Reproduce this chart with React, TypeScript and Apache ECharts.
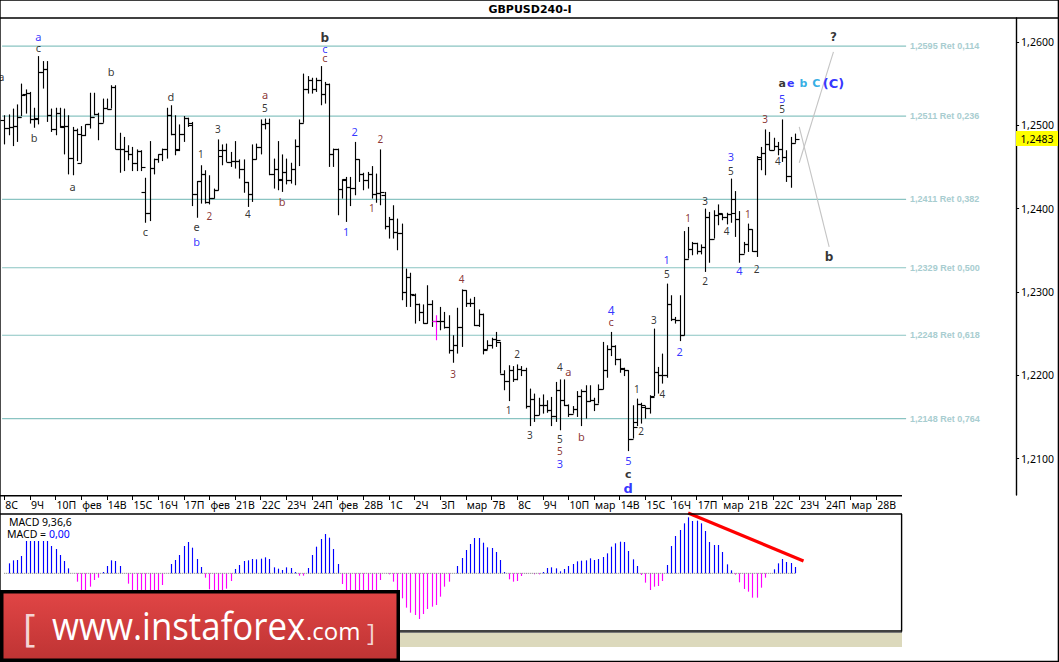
import React, { useEffect, useRef } from "react";
import * as echarts from "echarts";

// prices are in points (1/10000), so 12483 reads 1,2483
const opens = [
  12506,12497,12498,12499,12510,12537,12539,12507,12509,12564,
  12567,12512,12496,12515,12499,12499,12461,12494,12455,12488,
  12501,12510,12514,12503,12521,12520,12546,12471,12471,12469,
  12465,12455,12469,12420,12395,12449,12459,12465,12471,12512,
  12489,12472,12489,12509,12500,12417,12433,12442,12408,12413,
  12422,12470,12470,12456,12457,12457,12447,12432,12417,12460,
  12474,12501,12503,12441,12448,12436,12444,12434,12448,12475,
  12503,12544,12554,12543,12554,12538,12549,12465,12472,12424,
  12434,12426,12425,12459,12442,12434,12442,12418,12419,12416,
  12379,12388,12372,12371,12300,12318,12296,12285,12276,12263,
  12285,12265,12265,12265,12258,12230,12236,12258,12302,12287,
  12287,12260,12273,12231,12236,12244,12240,12202,12193,12206,
  12196,12208,12206,12163,12171,12152,12164,12164,12158,12151,
  12182,12170,12164,12154,12159,12175,12181,12169,12170,12166,
  12183,12206,12232,12235,12219,12208,12206,12124,12144,12166,
  12162,12161,12175,12204,12200,12200,12286,12267,12266,12248,
  12340,12352,12359,12349,12354,12390,12364,12392,12394,12390,
  12394,12411,12388,12346,12357,12375,12349,12460,12467,12478,
  12470,12475,12472,12462,12439,12479,
];
const highs = [
  12512,12513,12520,12525,12550,12543,12540,12521,12583,12577,
  12577,12520,12521,12521,12520,12512,12498,12496,12499,12501,
  12539,12539,12515,12532,12532,12548,12548,12491,12486,12476,
  12474,12471,12470,12437,12481,12460,12465,12472,12521,12524,
  12512,12501,12511,12509,12504,12433,12452,12446,12440,12424,
  12483,12477,12478,12468,12481,12459,12459,12432,12477,12478,
  12507,12508,12508,12460,12481,12465,12460,12455,12483,12507,
  12562,12559,12557,12557,12571,12552,12550,12472,12472,12435,
  12438,12438,12480,12459,12443,12444,12451,12442,12471,12420,
  12390,12404,12388,12382,12328,12323,12298,12286,12285,12308,
  12290,12272,12282,12276,12272,12248,12281,12303,12302,12292,
  12294,12279,12274,12242,12245,12252,12240,12206,12212,12211,
  12213,12211,12209,12184,12178,12173,12177,12170,12174,12192,
  12195,12195,12165,12163,12181,12183,12188,12188,12173,12189,
  12240,12236,12252,12236,12220,12209,12206,12164,12172,12167,
  12163,12176,12256,12210,12226,12310,12296,12270,12296,12373,
  12378,12360,12359,12357,12400,12396,12398,12405,12394,12395,
  12436,12421,12397,12360,12382,12375,12463,12474,12495,12492,
  12485,12480,12507,12470,12486,12490,
];
const lows = [
  12477,12488,12475,12480,12511,12514,12502,12497,12501,12544,
  12504,12492,12488,12497,12465,12441,12440,12457,12455,12487,
  12496,12512,12482,12503,12520,12520,12471,12443,12445,12458,
  12445,12445,12445,12383,12385,12441,12455,12457,12460,12488,
  12464,12469,12480,12498,12403,12389,12406,12406,12405,12412,
  12422,12452,12456,12450,12448,12436,12419,12402,12408,12459,
  12465,12495,12440,12424,12422,12420,12429,12430,12428,12451,
  12503,12538,12538,12540,12524,12526,12450,12450,12392,12412,
  12384,12403,12416,12432,12422,12424,12412,12407,12404,12375,
  12364,12364,12350,12290,12282,12282,12262,12265,12262,12262,
  12258,12242,12254,12256,12226,12215,12226,12234,12282,12282,
  12259,12258,12225,12231,12232,12234,12202,12182,12169,12192,
  12194,12199,12160,12139,12144,12152,12154,12155,12139,12144,
  12134,12163,12150,12154,12150,12139,12148,12168,12157,12166,
  12183,12197,12223,12212,12203,12199,12109,12124,12139,12142,
  12148,12154,12175,12178,12190,12197,12265,12262,12241,12248,
  12340,12344,12345,12345,12324,12335,12364,12380,12386,12381,
  12383,12366,12335,12346,12348,12348,12342,12446,12440,12470,
  12470,12464,12456,12432,12425,12479,
];
const closes = [
  12497,12498,12499,12510,12536,12539,12508,12508,12564,12567,
  12512,12496,12515,12498,12499,12461,12494,12490,12488,12501,
  12510,12513,12503,12521,12520,12546,12471,12471,12469,12465,
  12455,12469,12450,12395,12449,12459,12465,12471,12512,12489,
  12470,12489,12509,12503,12417,12433,12442,12408,12413,12422,
  12463,12470,12456,12457,12457,12447,12432,12417,12460,12474,
  12501,12503,12441,12448,12434,12444,12434,12448,12475,12503,
  12544,12554,12543,12554,12538,12549,12465,12472,12424,12435,
  12426,12425,12460,12442,12434,12442,12417,12419,12420,12379,
  12388,12372,12371,12300,12318,12298,12285,12276,12263,12285,
  12265,12265,12265,12258,12230,12236,12258,12302,12287,12287,
  12260,12273,12230,12236,12244,12242,12202,12193,12206,12196,
  12208,12206,12163,12171,12152,12164,12164,12158,12151,12182,
  12170,12164,12154,12159,12175,12181,12169,12170,12166,12183,
  12206,12232,12235,12219,12209,12206,12124,12138,12166,12164,
  12161,12174,12204,12200,12200,12286,12267,12266,12248,12340,
  12352,12359,12349,12354,12390,12363,12392,12395,12390,12394,
  12395,12388,12346,12357,12375,12349,12462,12467,12478,12470,
  12475,12472,12462,12439,12479,12483,
];
const macdHist = [
  0,30,39,40,52,97,97,97,97,97,
  97,82,73,55,37,15,0,-25,-52,-55,
  -40,-20,-13,4,22,39,37,22,0,-31,
  -55,-58,-60,-60,-55,-52,-50,-35,0,28,
  40,55,82,94,77,43,19,-13,-48,-55,
  -58,-60,-46,-23,13,25,37,39,43,42,
  44,48,43,18,14,10,18,16,4,-7,
  -7,16,55,80,103,118,107,73,28,-32,
  -50,-55,-52,-50,-55,-52,-50,-50,-20,0,
  -3,-25,-50,-75,-103,-118,-125,-137,-122,-107,
  -100,-95,-70,-40,-25,0,
  22,46,70,88,106,106,92,78,76,64,
  40,4,-18,-25,-23,-8,-1,0,-3,-3,
  4,16,18,15,6,13,22,28,36,38,
  39,45,40,43,49,60,80,90,95,94,
  67,42,22,-5,-28,-50,-40,-38,-23,25,
  82,112,130,150,168,157,158,150,127,94,
  85,85,64,27,9,-4,-27,-47,-55,-73,
  -73,-43,-13,0,12,30,43,34,31,19,
];
const dateTicks = [
  "8С","9Ч","10П","фев","14В","15С","16Ч","17П","фев","21В","22С","23Ч",
  "24П","фев","28В","1С","2Ч","3П","мар","7В","8С","9Ч","10П","мар",
  "14В","15С","16Ч","17П","мар","21В","22С","23Ч","24П","мар","28В",
];
const priceTicks = [12100, 12200, 12300, 12400, 12500, 12600];
const fibLevels = [12595, 12511, 12411, 12329, 12248, 12148];
const fibRatios = ["0,114", "0,236", "0,382", "0,500", "0,618", "0,764"];
const magentaBars = [101];
const forecastUp = [[186, 12455], [194, 12588]];
const forecastDown = [[186, 12498], [193, 12354]];
const macdTrend = [[160, 181], [187, 37]];

const K = "#000000", B = "#0000ff", R = "#6e0000", S = "#0099dd";
// bar, price, text, colour, size, bold
const waveLabels: [number, number, string, string, number, boolean][] = [
  [8,12607,"a",B,11,false],[8,12593,"c",K,11,false],[0,12558,"a",K,11,false],
  [25,12564,"b",K,11,false],[7,12485,"b",K,11,false],[16,12427,"a",K,11,false],
  [39,12535,"d",K,11,false],[33,12372,"c",K,11,false],[45,12378,"e",K,11,false],
  [45,12361,"b",B,11,false],[46,12466,"1",K,10,false],[48,12391,"2",R,10,false],
  [50,12496,"3",K,10,false],[57,12393,"4",K,10,false],[61,12521,"5",K,10,false],
  [61,12537,"a",R,11,false],[65,12408,"b",R,11,false],[75,12605,"b",K,12,true],
  [75,12592,"c",B,11,false],[75,12581,"c",R,11,false],[80,12373,"1",B,11,false],
  [82,12493,"2",B,11,false],[88,12484,"2",R,10,false],[86,12401,"1",R,10,false],
  [107,12316,"4",R,10,false],[105,12202,"3",R,10,false],[120,12225,"2",K,10,false],
  [118,12158,"1",K,10,false],[123,12128,"3",K,10,false],[130,12124,"5",K,10,false],
  [130,12109,"5",R,10,false],[130,12094,"3",B,11,false],[130,12210,"4",K,10,false],
  [132,12204,"a",R,11,false],[135,12126,"b",R,11,false],[142,12278,"4",B,12,false],
  [142,12264,"c",R,11,false],[146,12098,"5",B,11,false],[146,12081,"c",K,11,true],
  [146,12064,"d",B,13,true],[148,12183,"1",K,10,false],[149,12133,"2",K,10,false],
  [154,12177,"4",K,10,false],[152,12266,"3",K,10,false],[155,12339,"1",B,11,false],
  [155,12321,"5",K,10,false],[158,12229,"2",B,11,false],[160,12389,"1",R,10,false],
  [164,12409,"3",K,10,false],[164,12313,"2",K,10,false],[169,12373,"4",K,10,false],
  [170,12462,"3",B,11,false],[170,12445,"5",K,10,false],[174,12394,"1",R,10,false],
  [172,12326,"4",B,11,false],[176,12328,"2",K,10,false],[178,12507,"3",R,10,false],
  [181,12457,"4",K,10,false],[182,12519,"5",K,10,false],[182,12532,"5",B,11,false],
  [182,12550,"a",K,11,true],[184,12550,"e",B,11,true],[187,12550,"b",S,11,true],
  [190,12550,"C",S,11,true],[194,12550,"(C)",B,13,true],[194,12606,"?",K,12,true],
  [193,12342,"b",K,12,true],
];

const SLOTS = 237;
const FRAME = "#000000";
const UI_FONT = "'Noto Sans', sans-serif";
const categories = Array.from({ length: SLOTS }, (_, i) => (i % 6 === 0 && dateTicks[i / 6]) || "");
const fmtPrice = (v: number) => (v / 10000).toFixed(4).replace(".", ",");

const frameLine = (x1: number, y1: number, x2: number, y2: number, lineWidth = 1.4) => ({
  type: "line", z: 50, silent: true, shape: { x1, y1, x2, y2 },
  style: { stroke: FRAME, lineWidth },
});
const bannerText = (x: number, y: number, text: string, font: string, fill: string, scaleX = 1) => ({
  type: "text", z: 102, silent: true, x, y, scaleX,
  style: { text, fill, font, verticalAlign: "middle" },
});

function buildOption() {
  return {
    animation: false,
    backgroundColor: "#ffffff",
    title: {
      text: "GBPUSD240-I", left: 530, top: 4, textAlign: "center", padding: 0,
      textStyle: { fontFamily: "'DejaVu Sans', sans-serif", fontSize: 11, fontWeight: "bold", color: "#000" },
    },
    grid: [
      { left: 2.1, top: 18, width: 1013, height: 477 },
      { left: 2.1, top: 514, width: 1013, height: 117 },
    ],
    xAxis: [
      {
        type: "category", gridIndex: 0, data: categories, boundaryGap: true, position: "bottom",
        axisLine: { show: false },
        axisTick: { show: true, alignWithLabel: true, interval: (i: number) => i % 6 === 0 && i / 6 < dateTicks.length, length: 5, lineStyle: { color: "#000" } },
        axisLabel: {
          show: true, interval: (i: number) => i % 6 === 0 && i / 6 < dateTicks.length,
          align: "left", margin: 4, fontFamily: UI_FONT, fontSize: 10.5, color: "#000",
          padding: [0, 0, 0, 1], hideOverlap: false,
        },
        splitLine: { show: false },
      },
      {
        type: "category", gridIndex: 1, data: categories, boundaryGap: true,
        axisLine: { show: false }, axisTick: { show: false }, axisLabel: { show: false }, splitLine: { show: false },
      },
    ],
    yAxis: [
      {
        type: "value", gridIndex: 0, position: "right", offset: 1, min: 12056.3, max: 12628.7, scale: true,
        axisLine: { show: true, lineStyle: { color: "#000", width: 1.4 } },
        axisTick: { show: true, length: 3, customValues: priceTicks, lineStyle: { color: "#000" } },
        axisLabel: { show: true, customValues: priceTicks, formatter: fmtPrice, margin: 5, fontFamily: UI_FONT, fontSize: 10.5, color: "#000" },
        splitLine: { show: false },
      },
      {
        type: "value", gridIndex: 1, position: "right", min: -173, max: 178, scale: true,
        axisLine: { show: false }, axisTick: { show: false }, axisLabel: { show: false }, splitLine: { show: false },
      },
    ],
    series: [
      {
        type: "custom", xAxisIndex: 0, yAxisIndex: 0, silent: true, z: 1, clip: false,
        data: fibLevels.map((level, i) => [i, level]),
        encode: { x: 0, y: 1 },
        renderItem: (params: any, api: any) => {
          const level = api.value(1);
          const idx = api.value(0);
          const [xEnd, y] = api.coord([211, level]);
          const left = params.coordSys.x;
          return {
            type: "group",
            children: [
              { type: "line", shape: { x1: left, y1: y, x2: xEnd, y2: y }, style: { stroke: "#8ac4c2", lineWidth: 1.2 } },
              {
                type: "text", x: xEnd + 4, y,
                style: {
                  text: `${fmtPrice(level)} Ret ${fibRatios[idx]}`, fill: "#a8cdd0",
                  font: "bold 9px 'Liberation Sans', sans-serif", verticalAlign: "middle",
                },
              },
            ],
          };
        },
      },
      {
        type: "custom", xAxisIndex: 0, yAxisIndex: 0, silent: true, z: 3, clip: false,
        data: opens.map((o, i) => [i, o, highs[i], lows[i], closes[i]]),
        encode: { x: 0, y: [1, 2, 3, 4] },
        renderItem: (_: any, api: any) => {
          const i = api.value(0);
          const [x0, yO] = api.coord([i, api.value(1)]);
          const yH = api.coord([i, api.value(2)])[1];
          const yL = api.coord([i, api.value(3)])[1];
          const yC = api.coord([i, api.value(4)])[1];
          const x = Math.round(x0) + 0.5;
          const style = { stroke: magentaBars.includes(i) ? "#ff00ff" : "#000000", lineWidth: 1.15 };
          return {
            type: "group",
            children: [
              { type: "line", shape: { x1: x, y1: yH, x2: x, y2: yL }, style },
              { type: "line", shape: { x1: x - 4, y1: Math.round(yO) + 0.5, x2: x, y2: Math.round(yO) + 0.5 }, style },
              { type: "line", shape: { x1: x, y1: Math.round(yC) + 0.5, x2: x + 4, y2: Math.round(yC) + 0.5 }, style },
            ],
          };
        },
      },
      ...[forecastUp, forecastDown].map((data) => ({
        type: "line", xAxisIndex: 0, yAxisIndex: 0, data, symbol: "none", silent: true, z: 2,
        lineStyle: { color: "#c4c4c4", width: 1.1 },
      })),
      {
        type: "scatter", xAxisIndex: 0, yAxisIndex: 0, symbolSize: 0, silent: true, z: 4, clip: false,
        data: waveLabels.map(([bar, price, text, color, fontSize, bold]) => ({
          value: [bar, price],
          label: {
            show: true, position: "inside", formatter: text, color, fontSize,
            offset: bar === 0 ? [-3, 0] : [0, 0],
            fontWeight: bold ? "bold" : "normal",
            fontFamily: bold ? "'DejaVu Sans', sans-serif" : UI_FONT,
          },
        })),
      },
      {
        type: "custom", xAxisIndex: 1, yAxisIndex: 1, silent: true, z: 3, clip: false,
        data: macdHist.map((v, i) => [i, v]),
        encode: { x: 0, y: 1 },
        renderItem: (_: any, api: any) => {
          const i = api.value(0);
          const v = api.value(1);
          const x = Math.round(api.coord([i, 0])[0]) + 0.5;
          return {
            type: "line",
            shape: { x1: x, y1: api.coord([i, 0])[1], x2: x, y2: api.coord([i, v])[1] },
            style: { stroke: v >= 0 ? "#0000ff" : "#ff00ff", lineWidth: 1.15 },
          };
        },
      },
      {
        type: "line", xAxisIndex: 1, yAxisIndex: 1, symbol: "none", silent: true, z: 4,
        data: macdHist.map(() => 0),
        lineStyle: { color: "#777777", width: 1, type: [1, 1] },
      },
      {
        type: "line", xAxisIndex: 1, yAxisIndex: 1, symbol: "none", silent: true, z: 6, clip: false,
        data: macdTrend, lineStyle: { color: "#ff0000", width: 3.2 },
      },
    ],
    graphic: { elements: [
      { type: "rect", z: 49, silent: true, shape: { x: 0, y: 0, width: 1058.4, height: 661.4 }, style: { fill: "none", stroke: FRAME, lineWidth: 1.4 } },
      frameLine(0, 18, 1059, 18),
      frameLine(0, 495.8, 902, 495.8),
      frameLine(0, 514, 902, 514),
      frameLine(901.6, 514, 901.6, 631.5),
      frameLine(0, 631, 902, 631, 1.6),
      { type: "rect", z: 48, silent: true, shape: { x: 0, y: 632, width: 902, height: 15 }, style: { fill: "#dcd9bc" } },
      { type: "line", z: 49, silent: true, shape: { x1: 0, y1: 632.5, x2: 902, y2: 632.5 }, style: { stroke: "#777777", lineWidth: 1 } },
      { type: "text", z: 60, silent: true, x: 9, y: 522, style: { text: "MACD 9,36,6", fill: "#000", font: "10.5px 'Noto Sans', sans-serif", verticalAlign: "middle" } },
      { type: "text", z: 60, silent: true, x: 7, y: 534, style: { text: "MACD =", fill: "#000", font: "10.5px 'Noto Sans', sans-serif", verticalAlign: "middle" } },
      { type: "text", z: 60, silent: true, x: 49, y: 534, style: { text: "0,00", fill: "#0000ff", font: "10.5px 'Noto Sans', sans-serif", verticalAlign: "middle" } },
      { type: "rect", z: 60, silent: true, shape: { x: 1016, y: 131, width: 42, height: 15 }, style: { fill: "#ffff00" } },
      { type: "text", z: 61, silent: true, x: 1037, y: 139, style: { text: fmtPrice(closes[closes.length - 1]), fill: "#000", font: "10.5px 'Noto Sans', sans-serif", align: "center", verticalAlign: "middle" } },
      { type: "rect", z: 100, silent: true, shape: { x: 0, y: 590, width: 400, height: 72 }, style: { fill: "#000000" } },
      {
        type: "rect", z: 101, silent: true, shape: { x: 3.5, y: 593.5, width: 393, height: 65 },
        style: { fill: new echarts.graphic.LinearGradient(0, 0, 0, 1, [{ offset: 0, color: "#e04545" }, { offset: 1, color: "#bf3434" }]) },
      },
      bannerText(23, 627, "[", "38px 'Open Sans', sans-serif", "#f4d4d4"),
      bannerText(52, 625, "www.instaforex", "38px 'Open Sans', sans-serif", "#ffffff", 0.917),
      bannerText(306, 630, ".com", "24px 'Open Sans', sans-serif", "#ffffff"),
      bannerText(367, 631, "]", "24px 'Open Sans', sans-serif", "#f4d4d4"),
    ] },
  };
}

export default function App() {
  const ref = useRef<HTMLDivElement>(null);
  useEffect(() => {
    document.body.style.margin = "0";
    const chart = echarts.init(ref.current!, undefined, { renderer: "svg" });
    chart.setOption(buildOption() as any);
    return () => chart.dispose();
  }, []);
  return <div ref={ref} style={{ width: 1059, height: 662, display: "block" }} />;
}
